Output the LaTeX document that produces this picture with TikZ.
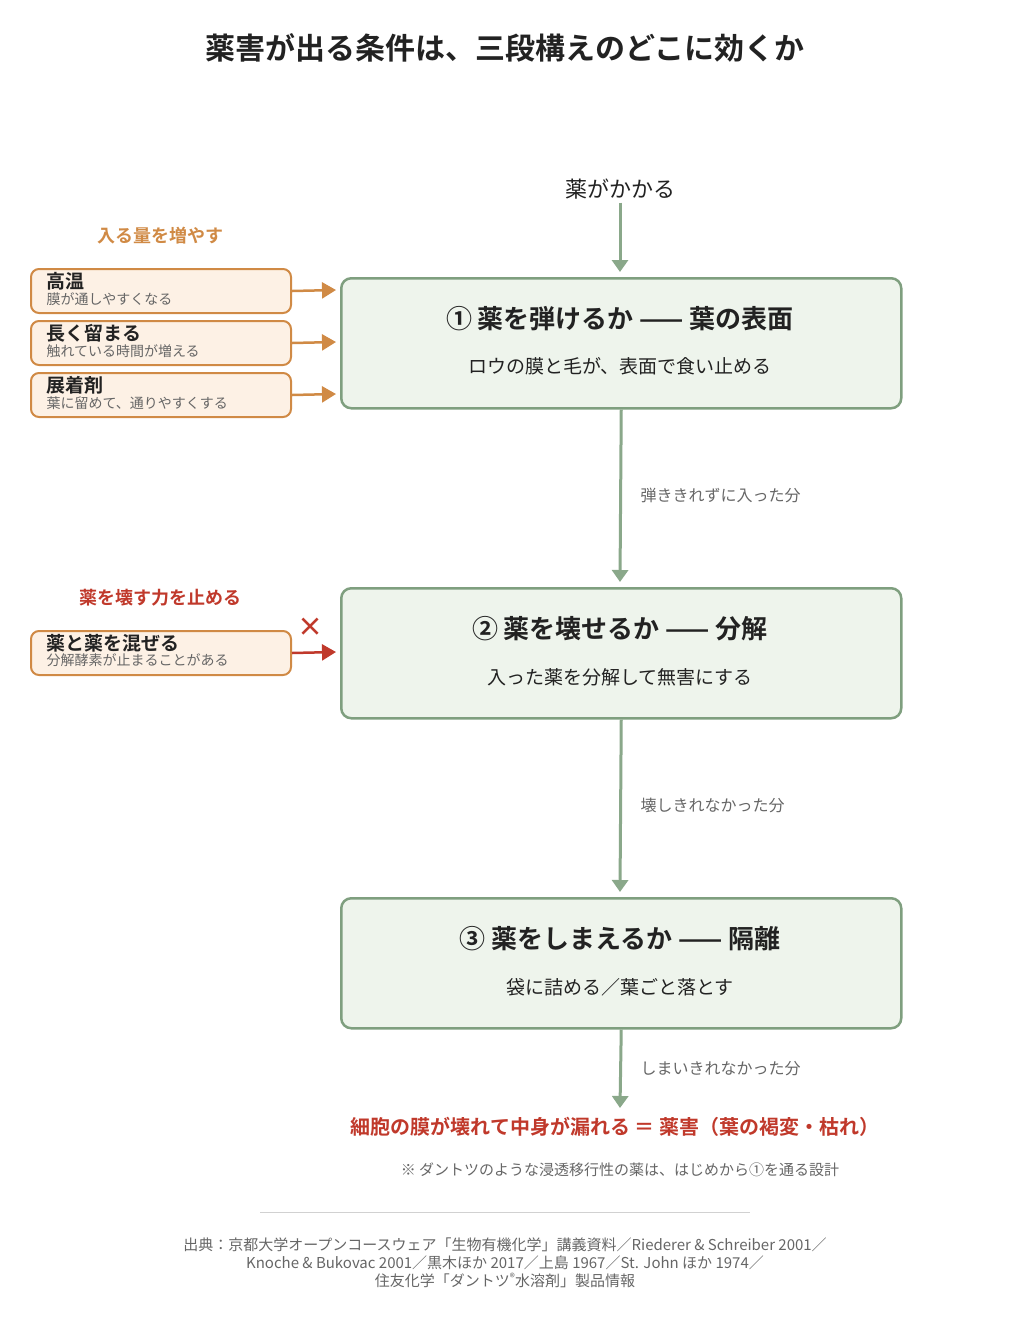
\documentclass[tikz,border=0pt]{standalone}
\usepackage{fontspec}
\setmainfont{Noto Sans CJK JP}[BoldFont={Noto Sans CJK JP Bold}]
\usetikzlibrary{arrows.meta}
\definecolor{gfill}{HTML}{EEF4EC}\definecolor{gline}{HTML}{7F9F7F}\definecolor{garr}{HTML}{8AA88A}
\definecolor{ofill}{HTML}{FDF1E5}\definecolor{oline}{HTML}{D08A45}\definecolor{rd}{HTML}{C0392B}
\definecolor{txt}{HTML}{222222}\definecolor{gry}{HTML}{666666}
\newcommand{\fs}[1]{\fontsize{#1pt}{#1pt}\selectfont}
\begin{document}
\begin{tikzpicture}[x=1pt,y=-1pt,
 main/.style={draw=gline,fill=gfill,line width=2.5pt,rounded corners=10pt,minimum width=560pt,minimum height=130pt,anchor=north west},
 side/.style={draw=oline,fill=ofill,line width=2pt,rounded corners=8pt,minimum width=260pt,minimum height=44pt,anchor=north west},
 garrow/.style={draw=garr,line width=3pt,-{Triangle[length=12pt,width=16pt]}},
 oarrow/.style={draw=oline,line width=2.5pt,-{Triangle[length=14pt,width=16pt]}},
 lab/.style={text=gry,font=\fs{16},anchor=west},
 sidet/.style={anchor=west,text=txt,font=\fs{19}\bfseries},
 sides/.style={anchor=west,text=gry,font=\fs{14}}]
\useasboundingbox (0,0) rectangle (1011,1342);
\node[text=txt,font=\fs{30}\bfseries] (title) at (505,48) {薬害が出る条件は、三段構えのどこに効くか};
\node[text=txt,font=\fs{22}] (top) at (620,189) {薬がかかる};
\node[main] (b1) at (340,277) {};
\node[main] (b2) at (340,587) {};
\node[main] (b3) at (340,897) {};
\node[text=txt,font=\fs{26}\bfseries] (t1) at (620,319) {① 薬を弾けるか —— 葉の表面};
\node[text=txt,font=\fs{19}] (s1) at (620,366) {ロウの膜と毛が、表面で食い止める};
\node[text=txt,font=\fs{26}\bfseries] (t2) at (620,629) {② 薬を壊せるか —— 分解};
\node[text=txt,font=\fs{19}] (s2) at (620,677) {入った薬を分解して無害にする};
\node[text=txt,font=\fs{26}\bfseries] (t3) at (620,939) {③ 薬をしまえるか —— 隔離};
\node[text=txt,font=\fs{19}] (s3) at (620,987) {袋に詰める／葉ごと落とす};
\coordinate (e1) at (620,272);
\coordinate (e2) at (620,582);
\coordinate (e3) at (620,892);
\coordinate (e4) at (620,1108);
\draw[garrow] (top.south) -- (e1);
\draw[garrow] (b1.south) -- (e2);
\draw[garrow] (b2.south) -- (e3);
\draw[garrow] (b3.south) -- (e4);
\node[lab] (l1) at (637,495) {弾ききれずに入った分};
\node[lab] (l2) at (637,805) {壊しきれなかった分};
\node[lab] (l3) at (637,1069) {しまいきれなかった分};
\node[text=oline,font=\fs{18}\bfseries] (h1) at (160,236) {入る量を増やす};
\node[text=rd,font=\fs{18}\bfseries] (h2) at (160,598) {薬を壊す力を止める};
\node[side] (a1) at (30,268) {};
\node[side] (a2) at (30,320) {};
\node[side] (a3) at (30,372) {};
\node[side] (a4) at (30,630) {};
\node[sidet] at (43,281) {高温};\node[sides] at (43,299) {膜が通しやすくなる};
\node[sidet] at (43,333) {長く留まる};\node[sides] at (43,351) {触れている時間が増える};
\node[sidet] at (43,385) {展着剤};\node[sides] at (43,403) {葉に留めて、通りやすくする};
\node[sidet] at (43,643) {薬と薬を混ぜる};\node[sides] at (43,660) {分解酵素が止まることがある};
\coordinate (c1) at (336,290);\coordinate (c2) at (336,342);\coordinate (c3) at (336,394);\coordinate (c4) at (336,652);
\draw[oarrow] (a1.east) -- (c1);
\draw[oarrow] (a2.east) -- (c2);
\draw[oarrow] (a3.east) -- (c3);
\draw[oarrow,draw=rd] (a4.east) -- (c4);
\node[text=rd,font=\fs{26}\bfseries] (x) at (310,627) {×};
\node[text=rd,font=\fs{20}\bfseries] (res) at (615,1127) {細胞の膜が壊れて中身が漏れる ＝ 薬害（葉の褐変・枯れ）};
\node[text=gry,font=\fs{15}] (note) at (620,1170) {※ ダントツのような浸透移行性の薬は、はじめから①を通る設計};
\draw[draw=black!18,line width=1pt] (260,1212) -- (750,1212);
\node[text=gry,font=\fs{15},align=center] (cite) at (505,1263) {出典：京都大学オープンコースウェア「生物有機化学」講義資料／Riederer \& Schreiber 2001／\\[3pt]Knoche \& Bukovac 2001／黒木ほか 2017／上島 1967／St. John ほか 1974／\\[3pt]住友化学「ダントツ\textsuperscript{®}水溶剤」製品情報};
\end{tikzpicture}
\end{document}
